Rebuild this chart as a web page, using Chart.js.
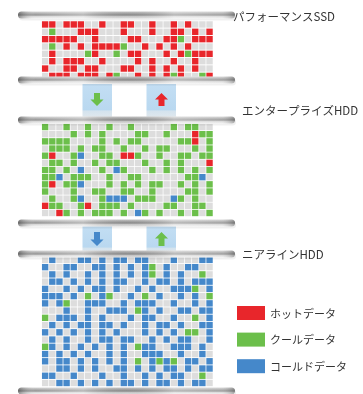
<!DOCTYPE html>
<html>
<head>
<meta charset="utf-8">
<script src="https://cdn.jsdelivr.net/npm/chart.js@4.4.1/dist/chart.umd.min.js"></script>
<style>
  html, body { margin: 0; padding: 0; background: #fff; }
  #wrap { width: 363px; height: 394px; }
</style>
</head>
<body>
<div id="wrap"><canvas id="chart" width="363" height="394"></canvas></div>
<script>
// Tier names
const tierNames = ["パフォーマンスSSD", "エンタープライズHDD", "ニアラインHDD"];

// Cell grids, one string per row: R = hot, G = cool, B = cold, . = empty
const ssdRows = [
  "RR.RRR..R..RR..R..R.R...",
  ".G...RRR...R...R..RR.R.R",
  "RRRRR..R....RR...RRG.RRR",
  ".G.R.R.RRRRG..R.R.R.R...",
  ".R....GR..G.RR...R.RGRRR",
  ".R.RRR..R....R.R..R..R..",
  "R..RR.RR...RR..R.R.R.R..",
  ".RRR.RRR.RG..R.R.RGR..GR"
];
const enterpriseRows = [
  "G..G..G..G..G.....G.GG..",
  "....G.G.G....GG..G...RGG",
  "GGGG....G.G.GG.....GGR.G",
  ".GGG.G.GG..G..G.GG...G.G",
  "GR..GB..GG.RRG..G..GG.GG",
  ".GG.G..G.GG...G..G.G...R",
  "GG.G.B..G.BG...G.G.G.G.G",
  "GGB.GGG..G..GG......GGB.",
  "GR.GGB...G.G.G.GG..G.G.G",
  "G...G..GG..GG..G....GG.G",
  ".G..GB..GBBB.GGG..BG.G..",
  "RGG..GR.GGG.G....GG..GG.",
  "..RG.G.GGG.G.BG.G..G.G.G"
];
const nearlineRows = [
  ".B...BB.B.BB.BB...B...BB",
  "B..BB..BB.B.B.BG.B..BB..",
  ".B.B..B.B.B.B.BG.B.B..G.",
  ".BB.B.B.B.BB..B.BB.B.BBB",
  "B..B.B.BB.B..B.B..BBBG.B",
  "BBB.B.G.BG..B.G.B..B.B.G",
  "B.BG..BBB..B.BBB..B..B.B",
  "...B..B..BBB.GB.B..BB.BB",
  "G.BBB.B.B...B.BB..B..G.B",
  ".B.B.BB.BB.B..B.BB.B..BB",
  "B.B.B.B.B.B...B.B.B.GG.B",
  ".B.B..B.BB.BB..B.B.BB..B",
  "GB.B.B.B.B.B.GBB..BBB.B.",
  "B.B.B.B..B.B..BBB..B..B.",
  "B.BB.B.B.B.B.G.BGBG.BB.B",
  "..BB.B.B..BB.B.B.BB.B.BB",
  "BB..B...B..B..B.B.BB..G.",
  "..BB.B.B.B.BB.B.BB.B.BB."
];

// Legend
const legendLabels = ["ホットデータ", "クールデータ", "コールドデータ"];
const cellCodes = ["R", "G", "B"];
const cellColors = ["#e8262b", "#6cbf4b", "#4588ca"];
const emptyColor = "#dddddd";

// Layout (pixels)
const W = 363, H = 394;
const GRID_LEFT = 38, CELL = 7.33;
const tierLayout = [
  { firstRow: 20.4, pitch: 7.52, labelY: 17 },
  { firstRow: 125.4, pitch: 7.33, labelY: 111 },
  { firstRow: 261.4, pitch: 7.41, labelY: 255 }
];
const tierRows = [ssdRows, enterpriseRows, nearlineRows];
const platterYs = [15, 80, 120, 223, 254, 391];
const arrowBands = [
  { top: 84, bottom: 117, down: "#6cbf4b", up: "#e8262b", arrowTop: 93, arrowBottom: 106 },
  { top: 226, bottom: 253, down: "#4588ca", up: "#6cbf4b", arrowTop: 232, arrowBottom: 246 }
];

function cellsOf(code) {
  const pts = [];
  tierRows.forEach((rows, t) => {
    const lay = tierLayout[t];
    rows.forEach((row, r) => {
      [...row].forEach((ch, c) => {
        if (ch === code) {
          pts.push({ x: GRID_LEFT + (c + 0.5) * CELL, y: lay.firstRow + r * lay.pitch });
        }
      });
    });
  });
  return pts;
}

const cellRadius = 6.4 / Math.SQRT2;

function cellDataset(label, code, color) {
  return {
    label,
    data: cellsOf(code),
    backgroundColor: color,
    borderWidth: 0,
    pointStyle: "rect",
    pointRadius: cellRadius,
    pointHoverRadius: cellRadius
  };
}

const datasets = [cellDataset("empty", ".", emptyColor)].concat(
  cellCodes.map((code, i) => cellDataset(legendLabels[i], code, cellColors[i]))
);

const FONT = '"Noto Sans CJK JP", "Noto Sans", sans-serif';

function drawPlatter(ctx, y) {
  const x0 = 18, x1 = 235, h = 7, top = y - h / 2;
  ctx.save();
  ctx.fillStyle = "rgba(0,0,0,0.06)";
  ctx.beginPath();
  ctx.roundRect(x0 + 1, top + 2, x1 - x0, h, 3.5);
  ctx.fill();

  const g = ctx.createLinearGradient(0, top, 0, top + h);
  g.addColorStop(0, "#d6d6d6");
  g.addColorStop(0.3, "#a9a9a9");
  g.addColorStop(0.5, "#8e8e8e");
  g.addColorStop(0.72, "#d8d8d8");
  g.addColorStop(1, "#f2f2f2");
  ctx.fillStyle = g;
  ctx.beginPath();
  ctx.roundRect(x0, top, x1 - x0, h, 3.5);
  ctx.fill();

  const hg = ctx.createLinearGradient(x0, 0, x1, 0);
  hg.addColorStop(0, "rgba(40,40,40,0.45)");
  hg.addColorStop(0.08, "rgba(255,255,255,0.05)");
  hg.addColorStop(0.3, "rgba(255,255,255,0.35)");
  hg.addColorStop(0.5, "rgba(90,90,90,0.12)");
  hg.addColorStop(0.72, "rgba(255,255,255,0.35)");
  hg.addColorStop(0.94, "rgba(255,255,255,0.15)");
  hg.addColorStop(1, "rgba(50,50,50,0.35)");
  ctx.fillStyle = hg;
  ctx.fill();
  ctx.restore();
}

function drawArrow(ctx, cx, top, bottom, dir, color) {
  const shaft = 3, head = 6.5, headH = 6.5;
  ctx.save();
  ctx.fillStyle = color;
  ctx.beginPath();
  if (dir === "down") {
    ctx.moveTo(cx - shaft, top);
    ctx.lineTo(cx + shaft, top);
    ctx.lineTo(cx + shaft, bottom - headH);
    ctx.lineTo(cx + head, bottom - headH);
    ctx.lineTo(cx, bottom);
    ctx.lineTo(cx - head, bottom - headH);
    ctx.lineTo(cx - shaft, bottom - headH);
  } else {
    ctx.moveTo(cx - shaft, bottom);
    ctx.lineTo(cx + shaft, bottom);
    ctx.lineTo(cx + shaft, top + headH);
    ctx.lineTo(cx + head, top + headH);
    ctx.lineTo(cx, top);
    ctx.lineTo(cx - head, top + headH);
    ctx.lineTo(cx - shaft, top + headH);
  }
  ctx.closePath();
  ctx.fill();
  ctx.restore();
}

function drawBox(ctx, x, top, bottom) {
  const g = ctx.createLinearGradient(0, top, 0, bottom);
  g.addColorStop(0, "#c3def3");
  g.addColorStop(0.78, "#b9d8f0");
  g.addColorStop(0.82, "#d4e3ee");
  g.addColorStop(1, "#dfe7ed");
  ctx.fillStyle = g;
  ctx.fillRect(x, top, 29.5, bottom - top);
}

const tierDecor = {
  id: "tierDecor",
  afterDatasetsDraw(chart) {
    const ctx = chart.ctx;
    arrowBands.forEach(b => {
      drawBox(ctx, 82.5, b.top, b.bottom);
      drawBox(ctx, 146.5, b.top, b.bottom);
    });
    platterYs.forEach(y => drawPlatter(ctx, y));
    arrowBands.forEach(b => {
      drawArrow(ctx, 97, b.arrowTop, b.arrowBottom, "down", b.down);
      drawArrow(ctx, 161.5, b.arrowTop, b.arrowBottom, "up", b.up);
    });

    ctx.save();
    ctx.fillStyle = "#333";
    ctx.textBaseline = "middle";
    ctx.font = "11.5px " + FONT;
    tierNames.forEach((name, i) => {
      ctx.fillText(name, i === 0 ? 233 : 242, tierLayout[i].labelY);
    });

    ctx.font = "11px " + FONT;
    legendLabels.forEach((label, i) => {
      const y = 306 + i * 26.6;
      ctx.fillStyle = cellColors[i];
      ctx.fillRect(237, y, 28, 14);
      ctx.fillStyle = "#333";
      ctx.fillText(label, 270, y + 7.5);
    });
    ctx.restore();
  }
};

new Chart(document.getElementById("chart"), {
  type: "scatter",
  data: { datasets },
  options: {
    responsive: false,
    animation: false,
    events: [],
    layout: { padding: 0 },
    scales: {
      x: { type: "linear", min: 0, max: W, display: false },
      y: { type: "linear", min: 0, max: H, reverse: true, display: false }
    },
    plugins: {
      legend: { display: false },
      tooltip: { enabled: false }
    },
    clip: false
  },
  plugins: [tierDecor]
});
</script>
</body>
</html>
